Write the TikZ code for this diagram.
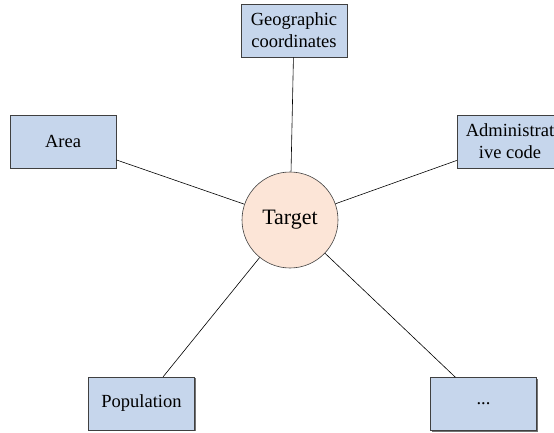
\documentclass[tikz,border=0pt]{standalone}
\usepackage{fontspec}
\setmainfont{Liberation Serif}
\usetikzlibrary{shapes,shadows}

\definecolor{boxblue}{HTML}{C6D6EC}
\definecolor{hubpeach}{HTML}{FCE5D7}

\tikzset{
  attr/.style={shape=rectangle,draw=black!75,fill=boxblue,line width=0.6pt,
    minimum width=106pt,minimum height=53pt,align=center,inner sep=0pt,
    font=\fontsize{18.5}{22}\selectfont,
    general shadow={fill=black!55,shadow xshift=1.2pt,shadow yshift=-1.2pt}},
  hub/.style={shape=circle,draw=black!75,fill=hubpeach,line width=0.6pt,
    minimum size=96pt,inner sep=0pt,font=\fontsize{22}{26}\selectfont},
}

\begin{document}
\begin{tikzpicture}[x=1pt,y=-1pt]
\clip (0,0) rectangle (554,433);
\node[hub] (0) at (290,220) {Target};
\node[attr] (1) at (294,30.5) {Geographic\\coordinates};
\node[attr] (2) at (510,141.5) {Administrat\\ive code};
\node[attr] (3) at (63,141.5) {Area};
\node[attr] (4) at (141.5,403.5) {Population};
\node[attr] (5) at (483.5,404) {...};

\path [-,draw=black,line width=0.6pt] (0) edge (1);
\path [-,draw=black,line width=0.6pt] (0) edge (2);
\path [-,draw=black,line width=0.6pt] (0) edge (3);
\path [-,draw=black,line width=0.6pt] (0) edge (4);
\path [-,draw=black,line width=0.6pt] (0) edge (5);
\end{tikzpicture}
\end{document}
